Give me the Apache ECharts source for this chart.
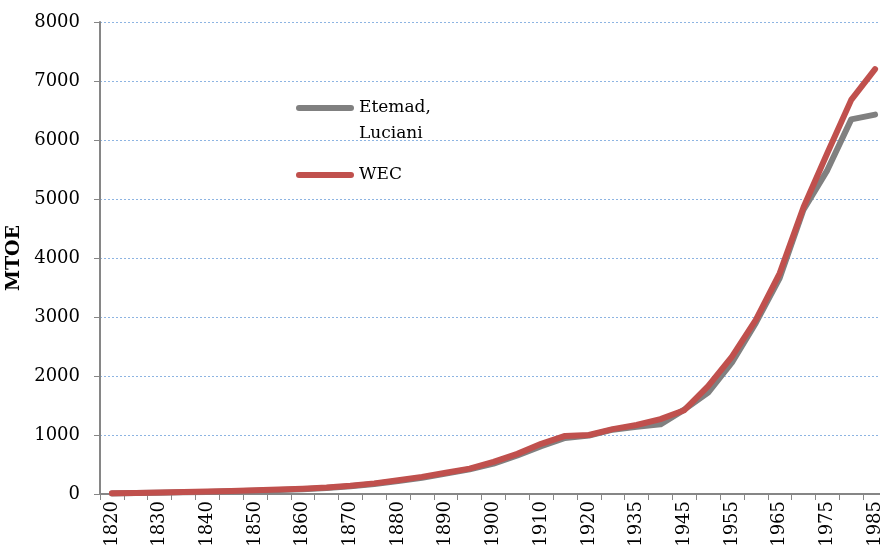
<!DOCTYPE html>
<html>
<head>
<meta charset="utf-8">
<script src="https://cdn.jsdelivr.net/npm/echarts@6/dist/echarts.min.js"></script>
<style>
  html, body { margin: 0; padding: 0; background: #fff; }
  #chart { width: 880px; height: 553px; }
</style>
</head>
<body>
<div id="chart"></div>
<script>
  // categories (years)
  var years = ['1820', '1825', '1830', '1835', '1840', '1845', '1850', '1855', '1860', '1865',
    '1870', '1875', '1880', '1885', '1890', '1895', '1900', '1905', '1910', '1915',
    '1920', '1930', '1935', '1940', '1945', '1950', '1955', '1960', '1965', '1970',
    '1975', '1980', '1985']

  // Etemad, Luciani (MTOE)
  var etemad = [10, 15, 20, 28, 36, 45, 55, 68, 82, 100,
    130, 170, 220, 275, 345, 420, 515, 655, 810, 950,
    990, 1090, 1140, 1180, 1430, 1720, 2230, 2900, 3660, 4820,
    5490, 6350, 6430]

  // WEC (MTOE)
  var wec = [12, 18, 25, 32, 42, 52, 62, 75, 90, 110,
    140, 180, 232, 290, 360, 430, 545, 680, 850, 985,
    1000, 1100, 1170, 1270, 1420, 1830, 2330, 2950, 3740, 4860,
    5780, 6680, 7200]

  var seriesNames = ['Etemad, Luciani', 'WEC']

  var serif = 'DejaVu Serif'
  var axisGray = '#868686'
  // rounded bar used as legend mark
  var lineIcon = 'path://M3,0 L55,0 A3,3 0 0 1 55,6 L3,6 A3,3 0 0 1 3,0 Z'

  function legendBox(name, top) {
    return {
      orient: 'vertical',
      left: 296,
      top: top,
      padding: 0,
      itemWidth: 58,
      itemHeight: 6,
      icon: lineIcon,
      data: [name],
      formatter: function (n) {
        // leading blank line keeps the first text line level with the mark
        return n.indexOf(', ') > -1 ? '\n' + n.replace(', ', ',\n') : n
      },
      textStyle: {
        fontFamily: serif,
        fontSize: 17,
        lineHeight: 26,
        color: '#000'
      }
    }
  }

  var chart = echarts.init(document.getElementById('chart'), null, {renderer: 'canvas'})
  chart.setOption({
    animation: false,
    backgroundColor: '#fff',
    grid: {
      left: 100,
      right: -7,
      top: 22,
      bottom: 59,
      containLabel: false,
      outerBoundsMode: 'none'
    },
    legend: [
      legendBox(seriesNames[0], 69),
      legendBox(seriesNames[1], 162)
    ],
    xAxis: {
      type: 'category',
      data: years,
      boundaryGap: true,
      axisLine: {
        lineStyle: {color: axisGray, width: 2}
      },
      axisTick: {
        show: true,
        interval: 0,
        length: 6,
        lineStyle: {color: axisGray, width: 1}
      },
      axisLabel: {
        interval: 1,
        rotate: 90,
        margin: 7,
        fontFamily: serif,
        fontSize: 18,
        color: '#000'
      },
      splitLine: {show: false}
    },
    yAxis: {
      type: 'value',
      min: 0,
      max: 8000,
      interval: 1000,
      name: 'MTOE',
      nameLocation: 'middle',
      nameRotate: 90,
      nameGap: 72,
      nameTextStyle: {
        fontFamily: serif,
        fontSize: 19,
        fontWeight: 'bold',
        color: '#000'
      },
      axisLine: {
        show: true,
        lineStyle: {color: axisGray, width: 2}
      },
      axisTick: {
        show: true,
        length: 6,
        lineStyle: {color: axisGray, width: 1}
      },
      axisLabel: {
        margin: 20,
        fontFamily: serif,
        fontSize: 18,
        color: '#000',
        formatter: function (v) {
          return String(v)
        }
      },
      splitLine: {
        show: true,
        lineStyle: {color: '#8db4e2', width: 1, type: [2, 2]}
      }
    },
    series: [
      {
        name: seriesNames[0],
        type: 'line',
        data: etemad,
        symbol: 'none',
        color: '#808080',
        lineStyle: {color: '#808080', width: 6, cap: 'round', join: 'round'},
        z: 2
      },
      {
        name: seriesNames[1],
        type: 'line',
        data: wec,
        symbol: 'none',
        color: '#c0504d',
        lineStyle: {color: '#c0504d', width: 6, cap: 'round', join: 'round'},
        z: 3
      }
    ]
  })
</script>
</body>
</html>
